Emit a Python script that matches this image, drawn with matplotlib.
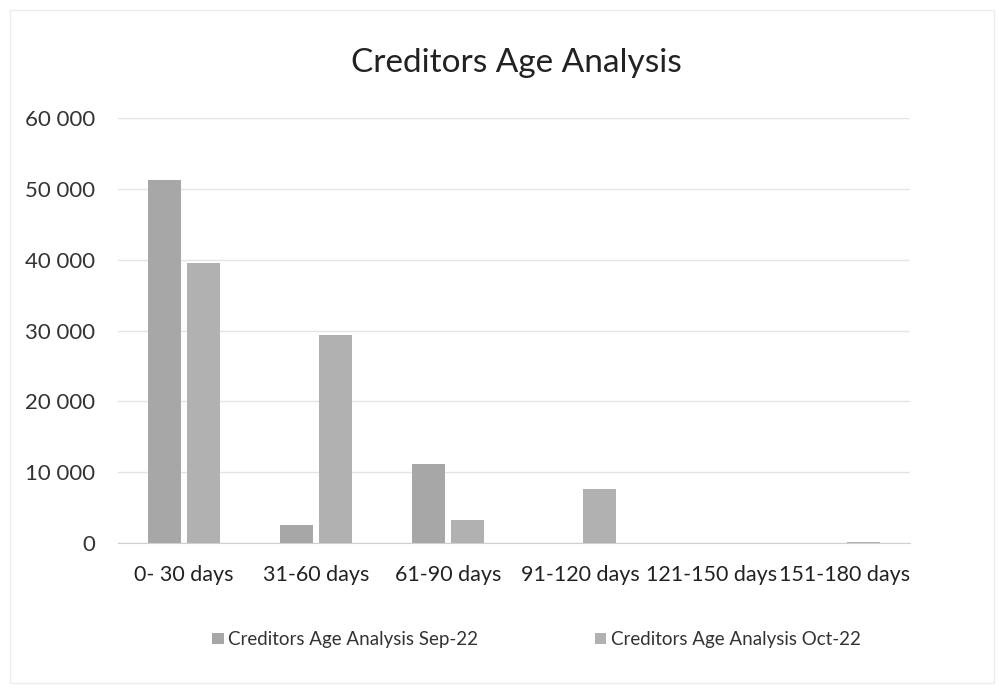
import matplotlib
matplotlib.use("Agg")
from matplotlib import pyplot as plt
from matplotlib.patches import Rectangle
import numpy as np

categories = ["0- 30 days", "31-60 days", "61-90 days", "91-120 days", "121-150 days", "151-180 days"]
sep_22 = [51200, 2500, 11200, 0, 0, 0]
oct_22 = [39500, 29300, 3200, 7600, 0, 150]
yticks = [0, 10000, 20000, 30000, 40000, 50000, 60000]

plt.rcParams["font.family"] = ["Lato", "DejaVu Sans"]

fig = plt.figure(figsize=(9.99, 6.9), dpi=100)
ax = fig.add_axes([0.118, 0.213, 0.793, 0.616])

x = np.arange(len(categories))
w = 0.25
ax.bar(x - 0.145, sep_22, w, color="#a7a7a7", label="Creditors Age Analysis Sep-22", zorder=3)
ax.bar(x + 0.145, oct_22, w, color="#b1b1b1", label="Creditors Age Analysis Oct-22", zorder=3)

ax.set_xlim(-0.5, len(categories) - 0.5)
ax.set_ylim(0, 60000)
ax.set_yticks(yticks)
ax.set_yticklabels([f"{v:,}".replace(",", " ") for v in yticks], fontsize=16, color="#333333")
ax.set_xticks(x)
ax.set_xticklabels(categories, fontsize=15.5, color="#222222")
ax.tick_params(length=0)
ax.tick_params(axis="x", pad=16)
ax.tick_params(axis="y", pad=16.5)
ax.grid(axis="y", color="#e4e4e4", linewidth=1.0, zorder=0)
for s in ["top", "right", "left"]:
    ax.spines[s].set_visible(False)
ax.spines["bottom"].set_color("#d0d0d0")

fig.text(0.517, 0.908, "Creditors Age Analysis", ha="center", va="center", fontsize=24, color="#222222")

leg = fig.legend(loc="center", bbox_to_anchor=(0.537, 0.073), ncol=2, frameon=False,
                 fontsize=13.5, columnspacing=6.2, handlelength=0.6, handleheight=0.6,
                 handletextpad=0.25)
for t in leg.get_texts():
    t.set_color("#333333")

# faint outline of the chart area
fig.patches.append(Rectangle((0.01, 0.01), 0.985, 0.975, transform=fig.transFigure,
                             fill=False, edgecolor="#ececec", linewidth=1))

fig.savefig("out.png", dpi=100)
